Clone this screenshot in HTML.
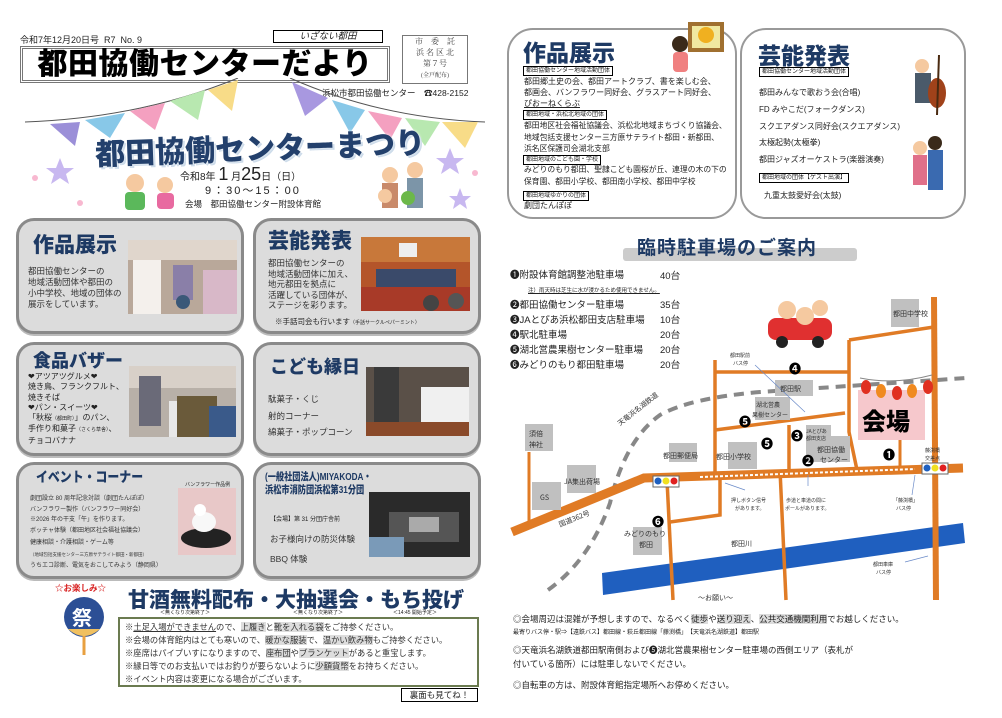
<!DOCTYPE html>
<html><head><meta charset="utf-8">
<style>
*{margin:0;padding:0;box-sizing:border-box}
body{width:1002px;height:718px;background:#fff;position:relative;overflow:hidden;font-family:"Liberation Sans","Noto Sans CJK JP",sans-serif;color:#222}
.a{position:absolute;white-space:nowrap}
.pn{position:absolute;background:#dcdcdc;border:3px solid #8a8a8a;border-radius:18px;box-shadow:0 2px 0 #bbb}
.pt{position:absolute;font-weight:900;color:#1e3a64;font-size:21px;letter-spacing:0px;white-space:nowrap}
.pt2{position:absolute;font-size:8.5px;line-height:11px;color:#333;white-space:nowrap}
.ph{position:absolute}
.wb{position:absolute;background:#fff;border:2px solid #999;border-radius:26px}
.lb{position:absolute;white-space:nowrap;border:1px solid #000;font-size:6px;padding:0 2px;line-height:8px;height:10px;background:#fff}
.ntc{color:#333}
.g{background:#ddd}
</style></head><body>

<!-- LEFT HEADER -->
<div class="a" style="left:20px;top:33px;font-size:9px">令和7年12月20日号&nbsp; R7&nbsp; No. 9</div>
<div class="a" style="left:273px;top:30px;width:110px;height:13px;border:1px solid #000;font-size:9.5px;font-style:italic;text-align:center;line-height:11px">いざない都田</div>
<div class="a" style="left:20px;top:46px;width:370px;height:37px;border:3px double #777;font-size:30px;font-weight:900;line-height:31px;text-align:center;letter-spacing:0.5px;color:#000">都田協働センターだより</div>
<div class="a" style="left:402px;top:35px;width:66px;height:49px;border:1px solid #777;font-family:'Liberation Serif','Noto Serif CJK SC',serif;font-size:8px;line-height:11px;text-align:center;color:#444">市　委　託<br>浜 名 区 北<br>第７号<br><span style="font-size:6px">(全戸配布)</span></div>
<div class="a" style="left:322px;top:87px;font-size:8.5px">浜松市都田協働センター　☎428-2152</div>

<svg class="a" style="left:20px;top:78px" width="470" height="140">
 <path d="M5,44 Q120,40 218,0" stroke="#555" fill="none"/>
 <path d="M270,0 Q360,40 465,44" stroke="#555" fill="none"/>
 <polygon points="30,46 60,44 55,68" fill="#9b8fd8"/>
 <polygon points="65,42 105,35 90,60" fill="#88c8e8"/>
 <polygon points="110,33 145,25 135,52" fill="#f4a0c0"/>
 <polygon points="150,23 185,12 178,42" fill="#b8e8b0"/>
 <polygon points="188,12 218,2 212,33" fill="#f8dc88"/>
 <polygon points="272,4 308,20 285,38" fill="#a898e0"/>
 <polygon points="312,22 345,32 330,55" fill="#88c8e8"/>
 <polygon points="348,33 382,40 370,62" fill="#f4a0c0"/>
 <polygon points="385,40 420,44 405,68" fill="#b8e8b0"/>
 <polygon points="422,44 458,44 445,70" fill="#f8dc88"/>
 <g fill="#c8b8f0"><polygon points="40,80 44,90 54,90 46,96 49,106 40,100 31,106 34,96 26,90 36,90"/><polygon points="430,70 434,80 444,80 436,86 439,96 430,90 421,96 424,86 416,80 426,80"/><polygon points="440,110 443,118 451,118 445,123 447,131 440,126 433,131 435,123 429,118 437,118"/></g>
 <g fill="#f8b8d0"><circle cx="15" cy="100" r="3"/><circle cx="455" cy="95" r="3"/><circle cx="60" cy="125" r="3"/></g>
 <circle cx="115" cy="105" r="9" fill="#f5c9a0"/><rect x="105" y="114" width="20" height="18" rx="4" fill="#5bb85b"/>
 <circle cx="145" cy="107" r="8" fill="#f5c9a0"/><rect x="137" y="115" width="17" height="16" rx="4" fill="#e86aa0"/>
 <circle cx="370" cy="97" r="8" fill="#f5c9a0"/><rect x="362" y="105" width="16" height="25" fill="#c98a6a"/>
 <circle cx="395" cy="92" r="8" fill="#f5c9a0"/><rect x="387" y="100" width="16" height="30" fill="#7c95a8"/>
 <circle cx="365" cy="118" r="7" fill="#f5c9a0"/><circle cx="388" cy="120" r="7" fill="#6cb84a"/>
</svg>
<div class="a" style="left:95px;top:124px;font-size:30px;font-weight:900;color:#23406c;transform:rotate(-2deg);text-shadow:0 0 3px #fff,2px 2px 0 #c8d8e8">都田協働センターまつり</div>
<div class="a" style="left:180px;top:164px;font-size:10px">令和8年 <span style="font-size:18px">1</span> 月<span style="font-size:18px">25</span>日（日）</div>
<div class="a" style="left:205px;top:182px;font-size:11px;letter-spacing:2px">9：30～15：00</div>
<div class="a" style="left:185px;top:198px;font-size:8.5px">会場　都田協働センター附設体育館</div>

<!-- PANELS -->
<div class="pn" style="left:16px;top:218px;width:228px;height:116px"></div>
<div class="pt" style="left:33px;top:229px">作品展示</div>
<div class="pt2" style="left:28px;top:266px">都田協働センターの<br>地域活動団体や都田の<br>小中学校、地域の団体の<br>展示をしています。</div>
<svg class="ph" style="left:128px;top:240px" width="109" height="74"><rect width="109" height="74" fill="#b9a89a"/><rect x="0" y="0" width="109" height="20" fill="#e0d6cc"/><rect x="5" y="20" width="28" height="54" fill="#f4f0ec"/><rect x="45" y="25" width="20" height="35" fill="#8a7fa8"/><rect x="75" y="30" width="34" height="44" fill="#d8b8c8"/><circle cx="55" cy="62" r="7" fill="#3a5878"/></svg>

<div class="pn" style="left:253px;top:218px;width:228px;height:116px"></div>
<div class="pt" style="left:268px;top:225px">芸能発表</div>
<div class="pt2" style="left:268px;top:258px;line-height:10.5px">都田協働センターの<br>地域活動団体に加え、<br>地元都田を拠点に<br>活躍している団体が、<br>ステージを彩ります。</div>
<div class="a" style="left:275px;top:316px;font-size:7.5px">※手話司会も行います<span style="font-size:5px">（手話サークルペパーミント）</span></div>
<svg class="ph" style="left:361px;top:237px" width="109" height="74"><rect width="109" height="74" fill="#b4552a"/><rect y="0" width="109" height="25" fill="#c8783a"/><rect x="38" y="6" width="18" height="14" fill="#eee"/><rect y="50" width="109" height="24" fill="#a83a28"/><rect x="15" y="32" width="80" height="18" fill="#3a4a6a"/><circle cx="70" cy="66" r="8" fill="#444"/><circle cx="95" cy="64" r="8" fill="#555"/></svg>

<div class="pn" style="left:16px;top:342px;width:228px;height:114px"></div>
<div class="pt" style="left:33px;top:347px;font-size:18px">食品バザー</div>
<div class="pt2" style="left:28px;top:372px;line-height:10.3px;font-size:8px;color:#222">❤アツアツグルメ❤<br>焼き鳥、フランクフルト、<br>焼きそば<br>❤パン・スイーツ❤<br>「秋桜<span style="font-size:5px">（都田町）</span>」のパン、<br>手作り和菓子<span style="font-size:5px">（さくら草舎）</span>、<br>チョコバナナ</div>
<svg class="ph" style="left:129px;top:366px" width="107" height="71"><rect width="107" height="71" fill="#b8b0a8"/><rect width="107" height="22" fill="#d8d0c8"/><rect x="10" y="10" width="22" height="50" fill="#6a6a78"/><rect x="40" y="35" width="30" height="36" fill="#e8e8e8"/><rect x="48" y="30" width="40" height="41" fill="#6a5a3a"/><rect x="80" y="40" width="27" height="31" fill="#3a5a8a"/></svg>

<div class="pn" style="left:253px;top:342px;width:228px;height:114px"></div>
<div class="pt" style="left:270px;top:353px;font-size:18px">こども縁日</div>
<div class="pt2" style="left:268px;top:391px;line-height:16.5px">駄菓子・くじ<br>射的コーナー<br>綿菓子・ポップコーン</div>
<svg class="ph" style="left:366px;top:367px" width="103" height="69"><rect width="103" height="69" fill="#5a5048"/><rect x="8" y="0" width="25" height="69" fill="#3a3a3a"/><rect x="55" y="20" width="48" height="35" fill="#f0f0f0"/><rect y="55" width="103" height="14" fill="#8a4a2a"/></svg>

<div class="pn" style="left:16px;top:462px;width:228px;height:117px"></div>
<div class="pt" style="left:36px;top:467px;font-size:14px;transform:scaleX(0.85);transform-origin:left">イベント・コーナー</div>
<div class="a" style="left:185px;top:481px;font-size:5px">バンフラワー作品例</div>
<div class="pt2" style="left:30px;top:494px;font-size:6px;line-height:10.5px">劇団設立 80 周年記念対談（劇団たんぽぽ）<br>バンフラワー製作（バンフラワー同好会）<br>※2026 年の干支「午」を作ります。<br>ボッチャ体験（都田地区社会福祉協議会）<br><span style="line-height:14px">健康相談・介護相談・ゲーム等</span><br><span style="font-size:4.5px;line-height:6px">（地域包括支援センター三方原サテライト都田・新都田）</span><br>うちエコ診断、電気をおこしてみよう（静岡県）</div>
<svg class="ph" style="left:178px;top:488px" width="58" height="67"><rect width="58" height="67" fill="#e8c8c8"/><ellipse cx="28" cy="50" rx="25" ry="10" fill="#222"/><ellipse cx="26" cy="34" rx="12" ry="10" fill="#f8f8f8"/><circle cx="22" cy="22" r="6" fill="#fff"/></svg>

<div class="pn" style="left:253px;top:462px;width:228px;height:117px"></div>
<div class="a" style="left:265px;top:471px;font-size:10.5px;font-weight:900;color:#1e3a64;line-height:13px;transform:scaleX(0.78);transform-origin:left">(一般社団法人)MIYAKODA・<br>浜松市消防団浜松第31分団</div>
<div class="a" style="left:270px;top:514px;font-size:6px">【会場】第 31 分団庁舎前</div>
<div class="pt2" style="left:270px;top:529px;font-size:8.5px;line-height:20px">お子様向けの防災体験<br>BBQ 体験</div>
<svg class="ph" style="left:369px;top:492px" width="101" height="65"><rect width="101" height="65" fill="#2a2a2a"/><rect x="20" y="20" width="70" height="30" fill="#555"/><rect x="40" y="25" width="30" height="15" fill="#aaa"/><rect x="0" y="45" width="35" height="20" fill="#7a9ab8"/></svg>

<svg class="a" style="left:60px;top:595px" width="52" height="60"><circle cx="24" cy="22" r="20" fill="#2c4f95"/><line x1="24" y1="40" x2="24" y2="60" stroke="#e8a040" stroke-width="3"/><path d="M8,34 Q24,48 40,34" fill="#f0c060"/><text x="12" y="30" font-size="20" fill="#fff" font-family="Noto Sans CJK JP" font-weight="bold">祭</text></svg>
<div class="a" style="left:55px;top:582px;font-size:8.5px;color:#d82020;font-weight:bold">☆お楽しみ☆</div>
<div class="a" style="left:128px;top:584px;font-size:21px;font-weight:900;color:#1e3a64">甘酒無料配布・大抽選会・もち投げ</div>
<div class="a" style="left:160px;top:609px;font-size:5px">＜無くなり次第終了＞</div>
<div class="a" style="left:293px;top:609px;font-size:5px">＜無くなり次第終了＞</div>
<div class="a" style="left:393px;top:609px;font-size:5px">＜14:45 開始予定＞</div>
<div class="a" style="left:118px;top:617px;width:361px;height:70px;border:2px solid #6b7b50;padding:0 0 0 5px"><div class="ntc" style="font-size:8.3px;line-height:13px;padding-top:2px">※<u>土足入場ができません</u>ので、<span class="g">上履き</span>と<span class="g">靴を入れる袋</span>をご持参ください。<br>※会場の体育館内はとても寒いので、<span class="g">暖かな服装</span>で、<span class="g">温かい飲み物</span>もご持参ください。<br>※座席はパイプいすになりますので、<span class="g">座布団</span>や<span class="g">ブランケット</span>があると重宝します。<br>※縁日等でのお支払いではお釣りが要らないように<span class="g">少額貨幣</span>をお持ちください。<br>※イベント内容は変更になる場合がございます。</div></div>
<div class="a" style="left:401px;top:688px;width:77px;height:14px;border:1px solid #000;font-size:8.5px;text-align:center;line-height:12px">裏面も見てね！</div>

<!-- RIGHT TOP -->
<div class="wb" style="left:507px;top:28px;width:230px;height:191px"></div>
<div class="a" style="left:523px;top:34px;font-size:23px;font-weight:900;color:#1e3a64">作品展示</div>
<svg class="a" style="left:668px;top:22px" width="60" height="52"><rect x="20" y="0" width="36" height="30" fill="#a07030"/><rect x="24" y="4" width="28" height="22" fill="#f0e8a0"/><circle cx="38" cy="13" r="8" fill="#f0b020"/><circle cx="12" cy="22" r="8" fill="#3a2a1a"/><rect x="5" y="30" width="15" height="20" rx="4" fill="#f08080"/></svg>
<div class="lb" style="left:523px;top:66px">都田協働センター地域活動団体</div>
<div class="a" style="left:524px;top:76px;font-size:8px;line-height:11px">都田郷土史の会、都田アートクラブ、書を楽しむ会、<br>都画会、バンフラワー同好会、グラスアート同好会、<br><u>ぴおーねくらぶ</u></div>
<div class="lb" style="left:523px;top:110px">都田地域・浜松北地域の団体</div>
<div class="a" style="left:524px;top:120px;font-size:7.8px;line-height:11.5px">都田地区社会福祉協議会、浜松北地域まちづくり協議会、<br>地域包括支援センター三方原サテライト都田・新都田、<br>浜名区保護司会湖北支部</div>
<div class="lb" style="left:523px;top:155px">都田地域のこども園・学校</div>
<div class="a" style="left:524px;top:164px;font-size:7.8px;line-height:12px">みどりのもり都田、聖隷こども園桜が丘、連理の木の下の<br>保育園、都田小学校、都田南小学校、都田中学校</div>
<div class="lb" style="left:523px;top:191px">都田地域ゆかりの団体</div>
<div class="a" style="left:524px;top:200px;font-size:8px">劇団たんぽぽ</div>

<div class="wb" style="left:740px;top:28px;width:226px;height:191px"></div>
<div class="a" style="left:758px;top:37px;font-size:23px;font-weight:900;color:#1e3a64">芸能発表</div>
<div class="lb" style="left:759px;top:67px">都田協働センター地域活動団体</div>
<div class="a" style="left:759px;top:85px;font-size:8px;line-height:16.8px">都田みんなで歌おう会(合唱)<br>FD みやこだ(フォークダンス)<br>スクエアダンス同好会(スクエアダンス)<br>太極起勢(太極拳)<br>都田ジャズオーケストラ(楽器演奏)</div>
<div class="lb" style="left:759px;top:173px">都田地域の団体【ゲスト出演】</div>
<div class="a" style="left:764px;top:190px;font-size:8px">九重太鼓愛好会(太鼓)</div>
<svg class="a" style="left:905px;top:55px" width="60" height="145"><circle cx="17" cy="11" r="7" fill="#f5c9a0"/><rect x="10" y="18" width="16" height="30" fill="#4a5a6a"/><ellipse cx="32" cy="38" rx="9" ry="15" fill="#a0421a"/><line x1="34" y1="0" x2="32" y2="60" stroke="#4a2a10" stroke-width="2"/><circle cx="15" cy="93" r="7" fill="#f5c9a0"/><rect x="8" y="100" width="14" height="30" fill="#e0708a"/><circle cx="30" cy="88" r="7" fill="#3a2a1a"/><rect x="23" y="95" width="15" height="40" fill="#3a6ab0"/></svg>

<!-- PARKING -->
<div class="a" style="left:623px;top:248px;width:234px;height:13px;background:#ccc;border-radius:3px"></div>
<div class="a" style="left:637px;top:233px;font-size:19px;font-weight:bold;color:#1e3a64;letter-spacing:1px">臨時駐車場のご案内</div>
<div class="a" style="left:510px;top:268px;font-size:9.5px;line-height:15px">❶附設体育館調整池駐車場</div>
<div class="a" style="left:660px;top:268px;font-size:9.5px">40台</div>
<div class="a" style="left:528px;top:286px;font-size:5.5px;text-decoration:underline">注）雨天時は芝生に水が浸かるため使用できません。</div>
<div class="a" style="left:510px;top:298px;font-size:9.5px;line-height:15px">❷都田協働センター駐車場<br>❸JAとぴあ浜松都田支店駐車場<br>❹駅北駐車場<br>❺湖北営農果樹センター駐車場<br>❻みどりのもり都田駐車場</div>
<div class="a" style="left:660px;top:298px;font-size:9.5px;line-height:15px">35台<br>10台<br>20台<br>20台<br>20台</div>

<svg class="a" style="left:500px;top:290px" width="470" height="320">
 <g transform="translate(-500,-290)">
 <polygon points="602,573 963,523 965,543 603,595" fill="#1f5fbf"/>
 <path d="M548,590 Q590,560 610,503 Q625,440 660,415 Q690,398 760,392 L966,378" fill="none" stroke="#888" stroke-width="4" stroke-dasharray="10,7"/>
 <g stroke="#e07b25" fill="none">
  <path d="M512,532 L644,478 L963,468" stroke-width="9"/>
  <path d="M934,297 L936,600" stroke-width="6"/>
  <path d="M849,340 L934,327" stroke-width="3.5"/>
  <path d="M849,340 L849,432 L857,470" stroke-width="3.5"/>
  <path d="M715,372 L849,372" stroke-width="3.5"/>
  <path d="M715,360 L715,476" stroke-width="3.5"/>
  <path d="M715,430 L845,413" stroke-width="3.5"/>
  <path d="M789,425 L789,470" stroke-width="3.5"/>
  <path d="M667,480 L673,600" stroke-width="3.5"/>
  <path d="M720,480 L720,515 L670,522" stroke-width="3.5"/>
  <path d="M780,470 L786,600" stroke-width="3.5"/>
  <path d="M529,452 L529,525" stroke-width="3"/>
  <path d="M900,440 L900,470" stroke-width="3"/>
 </g>
 <path d="M700,477 L915,469" stroke="#fff" stroke-width="2" stroke-dasharray="3,2"/>
 <g fill="#c0c0c0">
  <rect x="891" y="299" width="28" height="28"/><rect x="775" y="380" width="38" height="16"/>
  <rect x="525" y="424" width="28" height="27"/><rect x="567" y="465" width="29" height="28"/><rect x="532" y="482" width="29" height="28"/>
  <rect x="669" y="443" width="28" height="19"/><rect x="728" y="442" width="29" height="27"/><rect x="806" y="425" width="25" height="17"/><rect x="806" y="436" width="44" height="26"/><rect x="755" y="397" width="35" height="23"/><rect x="633" y="527" width="29" height="28"/>
 </g>
 <rect x="858" y="390" width="67" height="50" fill="#f6c8cc"/>
 <path d="M860,378 Q895,385 932,375" stroke="#888" fill="none"/>
 <g fill="#e03020"><ellipse cx="866" cy="387" rx="5" ry="7"/><ellipse cx="897" cy="393" rx="5" ry="7"/><ellipse cx="928" cy="387" rx="5" ry="7"/></g>
 <g fill="#f08a20"><ellipse cx="881" cy="391" rx="5" ry="7"/><ellipse cx="912" cy="391" rx="5" ry="7"/></g>
 <text x="862" y="430" font-size="24" font-weight="900" font-family="Noto Sans CJK JP">会場</text>
 <rect x="768" y="318" width="64" height="22" rx="8" fill="#e03030"/><circle cx="782" cy="342" r="6" fill="#222"/><circle cx="818" cy="342" r="6" fill="#222"/>
 <circle cx="787" cy="310" r="9" fill="#f5c9a0"/><circle cx="805" cy="316" r="9" fill="#f5c9a0"/><circle cx="820" cy="308" r="8" fill="#f5c9a0"/>
 <rect x="653" y="476" width="26" height="11" fill="#fff" stroke="#666"/><circle cx="658" cy="481" r="3.5" fill="#1e60c0"/><circle cx="666" cy="481" r="3.5" fill="#f0e020"/><circle cx="674" cy="481" r="3.5" fill="#e02020"/>
 <rect x="922" y="463" width="26" height="11" fill="#fff" stroke="#666"/><circle cx="927" cy="468" r="3.5" fill="#1e60c0"/><circle cx="935" cy="468" r="3.5" fill="#f0e020"/><circle cx="943" cy="468" r="3.5" fill="#e02020"/>
 <g stroke="#6a8ac8" stroke-width="0.7" fill="none"><path d="M755,365 L805,412"/><path d="M745,490 L725,483"/><path d="M808,486 L808,475"/><path d="M912,495 L915,475"/><path d="M905,562 L928,556"/></g>
 <g font-family="Noto Sans CJK JP" font-weight="bold" font-size="12"><text x="789" y="373">❹</text><text x="739" y="426">❺</text><text x="761" y="448">❺</text><text x="791" y="440">❸</text><text x="802" y="465">❷</text><text x="883" y="459">❶</text><text x="652" y="526">❻</text></g>
 <g font-family="Noto Sans CJK JP" font-size="7" fill="#333">
  <text x="893" y="316">都田中学校</text><text x="780" y="391">都田駅</text>
  <text x="529" y="436">須倍</text><text x="529" y="447">神社</text><text x="564" y="484">JA集出荷場</text><text x="540" y="500">GS</text>
  <text x="663" y="458">都田郵便局</text><text x="716" y="459">都田小学校</text><text x="806" y="433" font-size="5">JAとぴあ</text><text x="806" y="440" font-size="5">都田支店</text>
  <text x="817" y="452">都田協働</text><text x="820" y="462">センター</text><text x="756" y="407" font-size="6">湖北営農</text><text x="752" y="417" font-size="6">果樹センター</text>
  <text x="624" y="536">みどりのもり</text><text x="639" y="547">都田</text><text x="731" y="546">都田川</text>
  <text x="730" y="357" font-size="5">都田駅前</text><text x="733" y="365" font-size="5">バス停</text>
  <text x="925" y="452" font-size="5">藤渕橋</text><text x="925" y="460" font-size="5">交差点</text>
  <text x="731" y="502" font-size="5">押しボタン信号</text><text x="735" y="510" font-size="5">があります。</text>
  <text x="786" y="502" font-size="5">歩道と車道の間に</text><text x="785" y="510" font-size="5">ポールがあります。</text>
  <text x="893" y="502" font-size="5">「藤渕橋」</text><text x="896" y="510" font-size="5">バス停</text>
  <text x="873" y="566" font-size="5">都田車庫</text><text x="876" y="574" font-size="5">バス停</text>
  <text x="620" y="426" transform="rotate(-38 620 426)">天竜浜名湖鉄道</text>
  <text x="560" y="527" transform="rotate(-22 560 527)">国道362号</text>
  <text x="698" y="600">～お願い～</text>
 </g>
 </g>
</svg>

<div class="a" style="left:513px;top:613px;font-size:8.5px">◎会場周辺は混雑が予想しますので、なるべく<span class="g">徒歩</span>や<span class="g">送り迎え</span>、<span class="g">公共交通機関利用</span>でお越しください。</div>
<div class="a" style="left:513px;top:627px;font-size:6px">最寄りバス停・駅⇒【遠鉄バス】都田線・萩丘都田線「藤渕橋」　【天竜浜名湖鉄道】都田駅</div>
<div class="a" style="left:513px;top:643px;font-size:8.5px;line-height:14px">◎天竜浜名湖鉄道都田駅南側および❺湖北営農果樹センター駐車場の西側エリア（表札が<br>付いている箇所）には駐車しないでください。</div>
<div class="a" style="left:513px;top:679px;font-size:8.5px">◎自転車の方は、附設体育館指定場所へお停めください。</div>
</body></html>
